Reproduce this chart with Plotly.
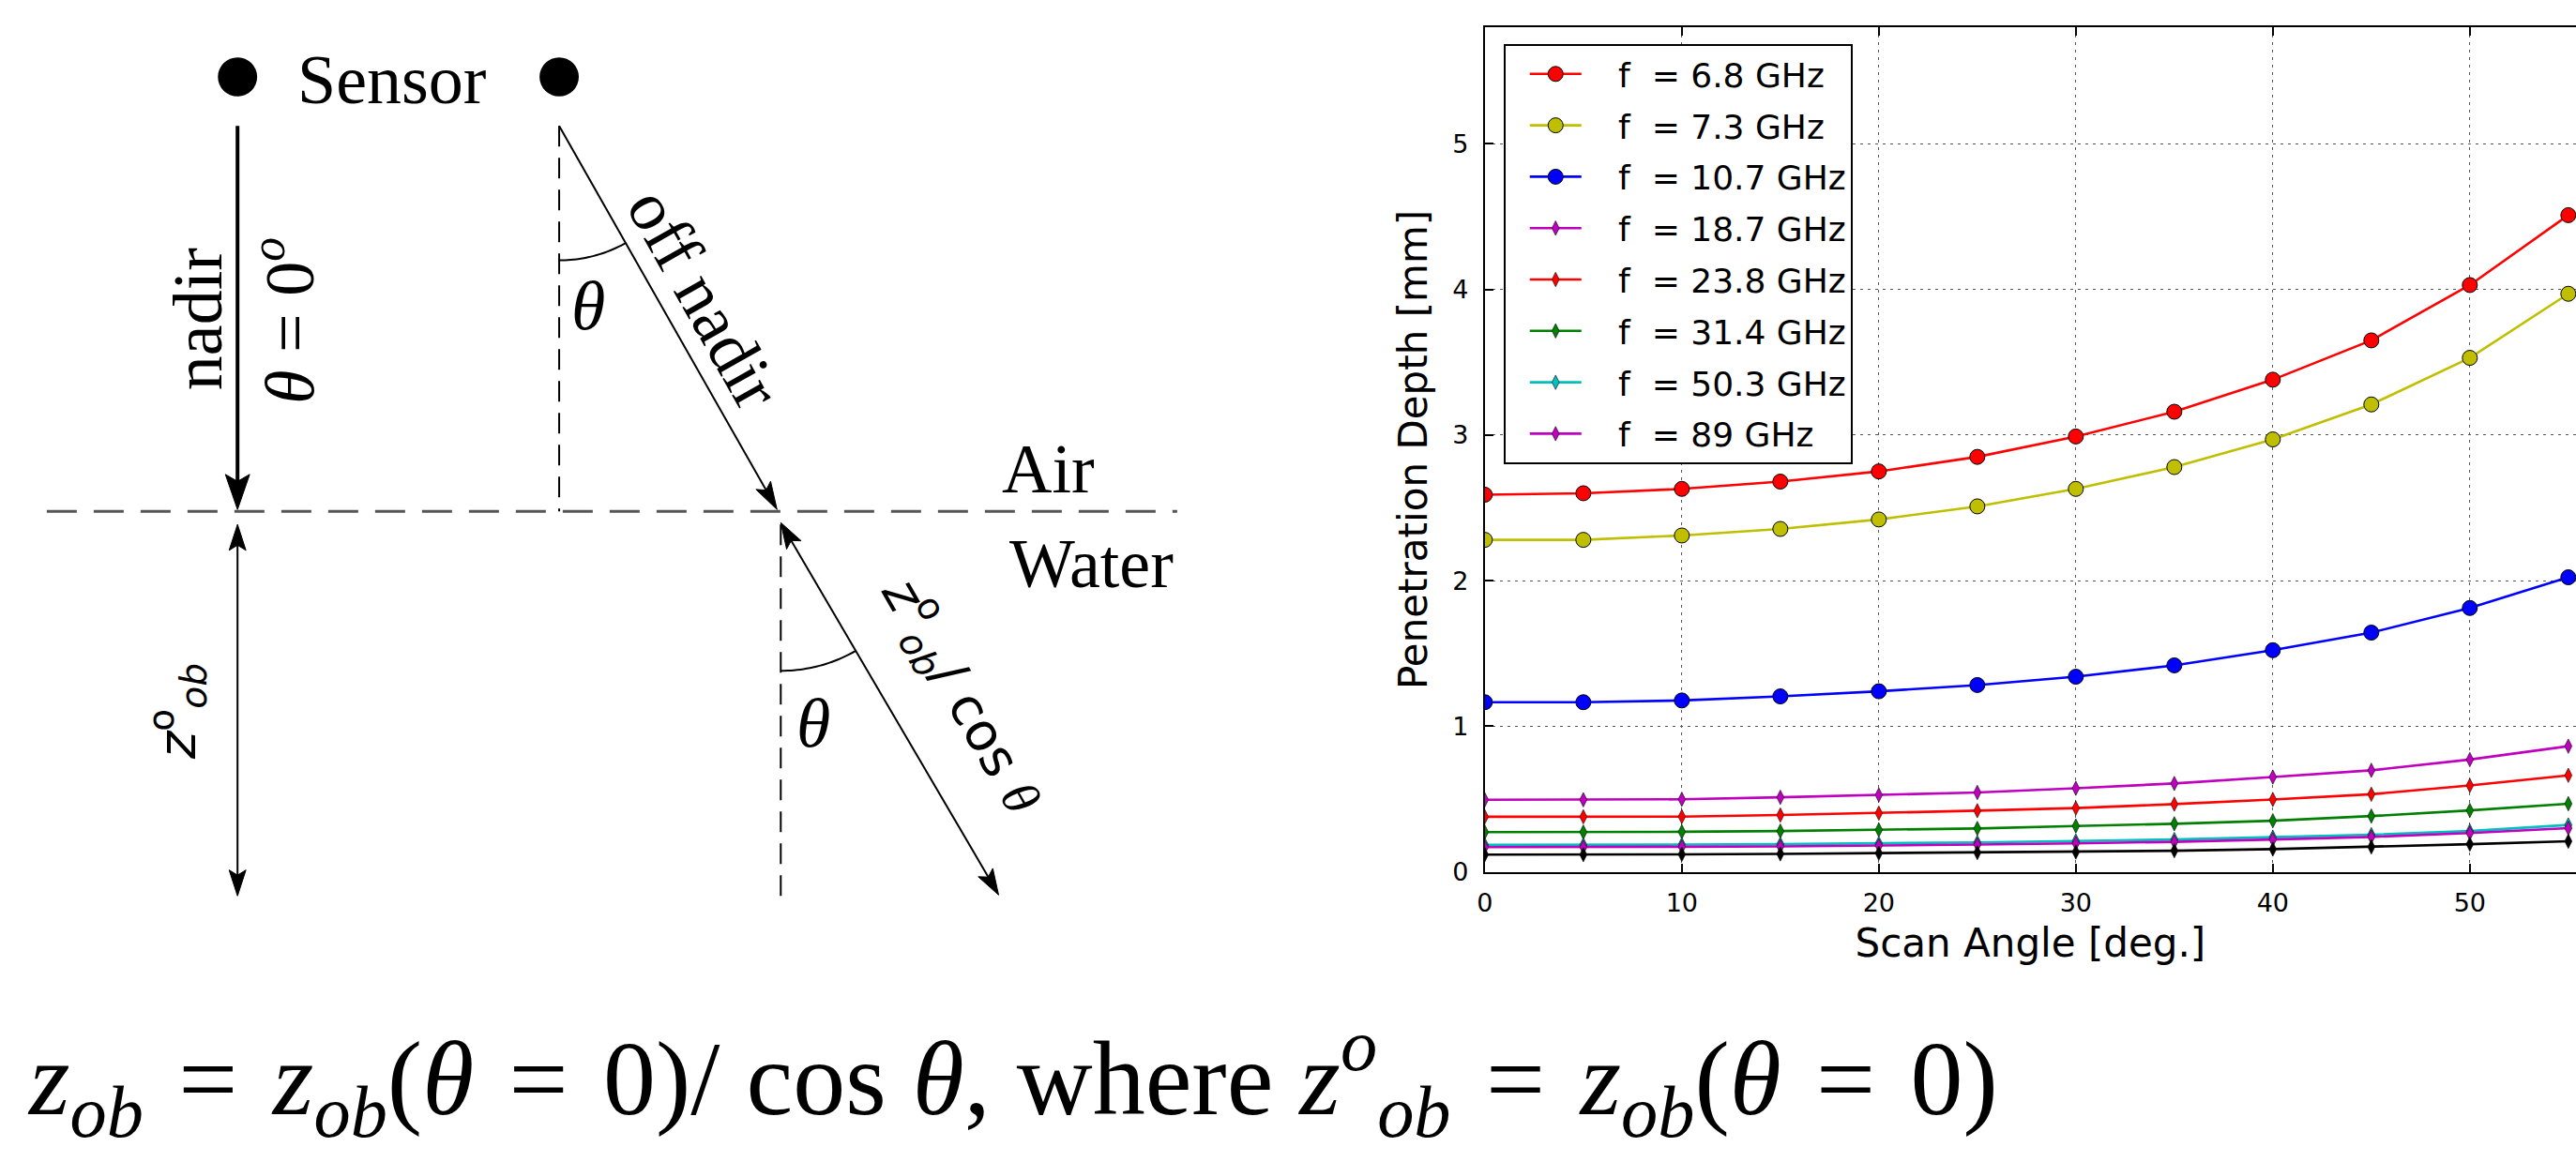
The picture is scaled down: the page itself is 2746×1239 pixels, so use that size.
import math
import plotly.graph_objects as go

# ---------------- data ----------------
scan_angle = [0, 5, 10, 15, 20, 25, 30, 35, 40, 45, 50, 55]
x_ticks = [0, 10, 20, 30, 40, 50]
y_ticks = [0, 1, 2, 3, 4, 5]

depth_6_8 = [2.59, 2.60, 2.63, 2.68, 2.75, 2.85, 2.99, 3.16, 3.38, 3.65, 4.03, 4.51]
depth_7_3 = [2.28, 2.28, 2.31, 2.355, 2.42, 2.51, 2.63, 2.78, 2.97, 3.21, 3.53, 3.97]
depth_10_7 = [1.165, 1.165, 1.177, 1.205, 1.24, 1.283, 1.34, 1.418, 1.522, 1.643, 1.812, 2.023]
depth_18_7 = [0.495, 0.495, 0.498, 0.512, 0.528, 0.545, 0.574, 0.607, 0.651, 0.697, 0.771, 0.863]
depth_23_8 = [0.378, 0.378, 0.379, 0.39, 0.403, 0.42, 0.438, 0.465, 0.497, 0.533, 0.593, 0.663]
depth_31_4 = [0.273, 0.273, 0.275, 0.28, 0.288, 0.298, 0.315, 0.33, 0.351, 0.383, 0.422, 0.468]
depth_50_3 = [0.185, 0.185, 0.187, 0.19, 0.195, 0.202, 0.212, 0.222, 0.238, 0.255, 0.28, 0.322]
depth_89 = [0.17, 0.17, 0.172, 0.175, 0.18, 0.187, 0.196, 0.206, 0.222, 0.24, 0.266, 0.30]
depth_black = [0.118, 0.118, 0.12, 0.123, 0.128, 0.132, 0.136, 0.145, 0.156, 0.171, 0.19, 0.21]

series_names = ["f  = 6.8 GHz", "f  = 7.3 GHz", "f  = 10.7 GHz", "f  = 18.7 GHz",
                "f  = 23.8 GHz", "f  = 31.4 GHz", "f  = 50.3 GHz", "f  = 89 GHz", ""]
series_values = [depth_6_8, depth_7_3, depth_10_7, depth_18_7, depth_23_8,
                 depth_31_4, depth_50_3, depth_89, depth_black]
series_colors = ["#ff0000", "#bfbf00", "#0000ff", "#bf00bf", "#ff0000",
                 "#008000", "#00bfbf", "#bf00bf", "#000000"]
series_big = [True, True, True, False, False, False, False, False, False]
series_in_legend = [True] * 8 + [False]

# ---------------- geometry helpers (figure pixels -> paper) ----------------
W, H = 2746, 1239
def X(px):
    return px / W
def Y(py):
    return 1 - py / H

PLOT_L, PLOT_T, PLOT_B = 1579, 29.5, 941
NB = "\u00a0"
HS = "\u200a"

fig = go.Figure()

for name, vals, col, big, inleg in zip(series_names, series_values, series_colors,
                                       series_big, series_in_legend):
    label = NB * 3 + name.replace("  ", NB + " ") if name else ""
    fig.add_trace(go.Scatter(
        x=scan_angle, y=vals, mode="lines+markers", name=label,
        legendgroup=name if name else "extra", showlegend=inleg,
        line=dict(color=col, width=2.6),
        marker=dict(symbol="circle" if big else "diamond-tall",
                    size=16 if big else 11, color=col,
                    line=dict(color="black", width=1 if big else 0.6)),
        cliponaxis=True,
    ))

shapes = []
annotations = []

def line(p0, p1, width=2, color="black", dash=None):
    d = dict(type="line", xref="paper", yref="paper",
             x0=X(p0[0]), y0=Y(p0[1]), x1=X(p1[0]), y1=Y(p1[1]),
             line=dict(color=color, width=width))
    if dash:
        d["line"]["dash"] = dash
    shapes.append(d)

def arrowhead(tip, frm, L, hw):
    dx, dy = tip[0] - frm[0], tip[1] - frm[1]
    n = math.hypot(dx, dy)
    ux, uy = dx / n, dy / n
    bx, by = tip[0] - ux * L, tip[1] - uy * L
    px_, py_ = -uy, ux
    pts = [tip, (bx + px_ * hw, by + py_ * hw), (tip[0] - ux * L * 0.8, tip[1] - uy * L * 0.8),
           (bx - px_ * hw, by - py_ * hw)]
    path = "M " + " L ".join(f"{X(a):.6f},{Y(b):.6f}" for a, b in pts) + " Z"
    shapes.append(dict(type="path", xref="paper", yref="paper", path=path,
                       fillcolor="black", line=dict(color="black", width=1)))

def arc(center, r, ang_deg):
    pts = []
    for i in range(25):
        a = math.radians(ang_deg * i / 24)
        pts.append((center[0] + r * math.sin(a), center[1] + r * math.cos(a)))
    path = "M " + " L ".join(f"{X(a):.6f},{Y(b):.6f}" for a, b in pts)
    shapes.append(dict(type="path", xref="paper", yref="paper", path=path,
                       line=dict(color="black", width=2)))

def dot(c, r):
    shapes.append(dict(type="circle", xref="paper", yref="paper",
                       x0=X(c[0] - r), x1=X(c[0] + r), y0=Y(c[1] + r), y1=Y(c[1] - r),
                       fillcolor="black", line=dict(color="black", width=0)))

def text(s, c, size=74, angle=0, family="Liberation Serif", xanchor="center"):
    annotations.append(dict(text=s, x=X(c[0]), y=Y(c[1]), xref="paper", yref="paper",
                            showarrow=False, textangle=angle, xanchor=xanchor, yanchor="middle",
                            font=dict(family=family, size=size, color="black")))

# sensors
dot((245, 83), 21)
dot((589, 83), 21)
text("Sensor", (410, 86))

# air / water surface
SURF = 552
line((41, SURF), (1250, SURF), width=3, color="#555555", dash="32px,18px")
text("Air", (1112, 506))
text("Water", (1158, 608))

# nadir
tipN = (245, SURF - 2)
line((245, 136), (245, SURF - 20), width=4)
arrowhead(tipN, (245, 136), 38, 13)
text("nadir", (203, 344), angle=-90)
text("<i>θ</i> = 0<sup><i>o</i></sup>", (296, 346), angle=-90)

# nadir depth double arrow
line((245, 575), (245, 958), width=2)
arrowhead((245, 566), (245, 966), 28, 9)
arrowhead((245, 967), (245, 566), 28, 9)
text("<i>z</i><sup>o</sup><sub><i>ob</i></sub>", (180, 768), size=56, angle=-90, family="DejaVu Sans")

# off nadir
S2 = (589, 136)
tipO = (822, SURF - 2)
line((589, 136), (589, SURF), width=2, dash="22px,12px")
line(S2, (812, 532), width=2)
arrowhead(tipO, S2, 30, 9)
arc(S2, 145, 29.6)
text("<i>θ</i>", (620, 330))
text("off nadir", (744, 322), angle=60.6)

# underwater slant
P0 = (826, 564)
P1 = (1059, 966)
line((826, SURF + 14), (826, 968), width=2, dash="22px,12px")
line((831, 573), (1054, 957), width=2)
arrowhead(P0, P1, 28, 9)
arrowhead(P1, P0, 28, 9)
arc(P0, 160, 30)
text("<i>θ</i>", (861, 780))
text("<i>z</i><sup>o</sup><sub><i>ob</i></sub>/ cos <span style='font-family:Liberation Serif'><i>θ</i></span>",
     (1020, 750), size=56, angle=60, family="DejaVu Sans")

# formula
EQ = f" {HS}={HS} "
text(f"<i>z</i><sub><i>ob</i></sub>{EQ}<i>z</i><sub><i>ob</i></sub>(<i>θ</i>{EQ}0)/ cos <i>θ</i>, "
     f"where <i>z</i><sup><i>o</i></sup><sub><i>ob</i></sub>{EQ}<i>z</i><sub><i>ob</i></sub>(<i>θ</i>{EQ}0)",
     (18, 1164), size=112, xanchor="left")

axis_common = dict(
    ticks="inside", ticklen=9, tickwidth=1.5, tickcolor="black",
    showline=True, linecolor="black", linewidth=2,
    showgrid=True, gridcolor="#555555", gridwidth=1.2, griddash="3px,5px",
    zeroline=False, tickfont=dict(family="DejaVu Sans", size=27, color="black"),
)

fig.update_layout(
    width=W, height=H,
    margin=dict(l=0, r=0, t=0, b=0),
    paper_bgcolor="white", plot_bgcolor="white",
    xaxis=dict(domain=[X(PLOT_L), 1], range=[0, 55.39], tickvals=x_ticks,
               mirror="allticks", ticklabelstandoff=8,
               title=dict(text="Scan Angle [deg.]", standoff=14,
                          font=dict(family="DejaVu Sans", size=42, color="black")),
               **axis_common),
    yaxis=dict(domain=[Y(PLOT_B), Y(PLOT_T)], range=[0, 5.8], tickvals=y_ticks,
               mirror=False, ticklabelstandoff=10,
               title=dict(text="Penetration Depth [mm]", standoff=14,
                          font=dict(family="DejaVu Sans", size=42, color="black")),
               **axis_common),
    legend=dict(x=X(1599), y=Y(47.5), xanchor="left", yanchor="top",
                bgcolor="white", bordercolor="black", borderwidth=2,
                font=dict(family="DejaVu Sans", size=36, color="black"),
                tracegroupgap=5, itemwidth=55, indentation=21),
    showlegend=True,
    shapes=shapes,
    annotations=annotations,
)

fig.write_html("out.html")
